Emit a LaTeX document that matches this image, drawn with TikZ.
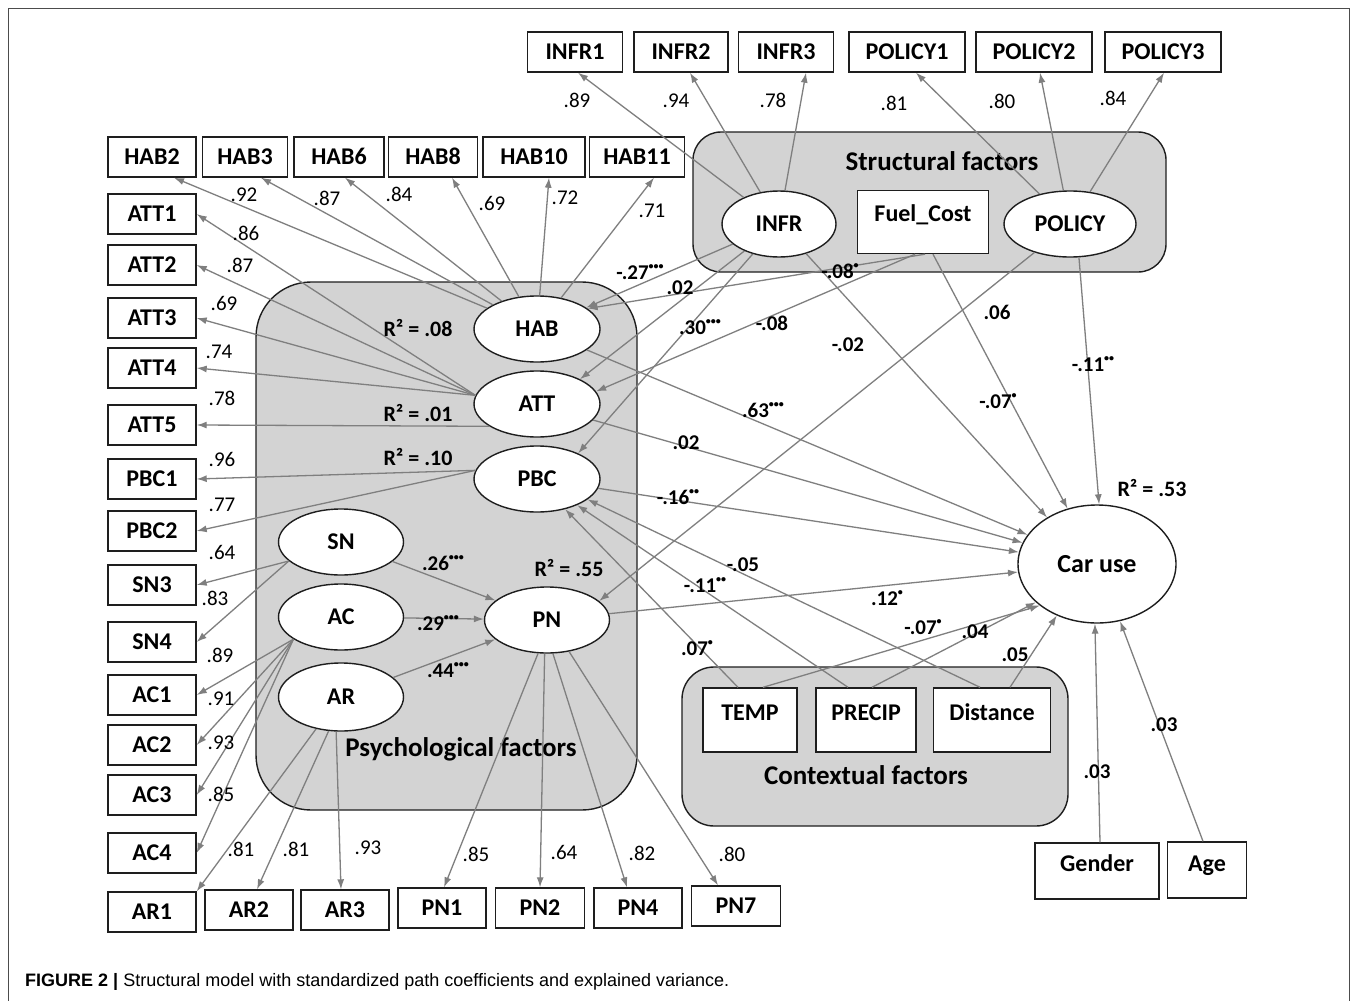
\documentclass[tikz,border=0pt]{standalone}
\usepackage{fontspec}
\setmainfont{Carlito}
\newfontfamily\capfont{Liberation Sans}
\usetikzlibrary{arrows.meta,calc,shapes.geometric}
\definecolor{arrg}{HTML}{7F7F7F}
\definecolor{boxg}{HTML}{D3D3D3}
\definecolor{edgec}{HTML}{1E1E1E}
\newcommand{\sg}[1]{\raisebox{0.5em}{\fontsize{10}{10}\selectfont #1}}
\tikzset{
 ind/.style={draw=edgec, line width=1.4pt, fill=white, minimum height=40pt, inner sep=0pt, text height=15.2pt, text depth=0pt, font=\bfseries\fontsize{24}{28}\selectfont},
 lat/.style={ellipse, draw=edgec, line width=1.4pt, fill=white, inner sep=0pt, text height=15.2pt, text depth=0pt, font=\bfseries\fontsize{24}{28}\selectfont},
 grp/.style={draw=edgec, line width=1.4pt, fill=boxg},
 conn/.style={draw=arrg, line width=1.3pt, -{Latex[length=10pt,width=7pt]}},
 loadlab/.style={font=\fontsize{21}{25}\selectfont, inner sep=0pt},
 coeflab/.style={font=\bfseries\fontsize{21}{25}\selectfont, inner sep=0pt},
 rsqlab/.style={font=\bfseries\fontsize{22}{26}\selectfont, inner sep=0pt},
 grouplab/.style={font=\bfseries\fontsize{27}{31}\selectfont, inner sep=0pt, text height=17.1pt, text depth=0pt},
 txt/.style={font=\bfseries\fontsize{24}{28}\selectfont, inner sep=0pt, text height=15.2pt, text depth=0pt},
}
\begin{document}
\begin{tikzpicture}[x=1pt,y=-1pt]
\useasboundingbox (0,0) rectangle (1357,1001);
\fill[white] (0,0) rectangle (1357,1001);
\draw[draw=black!70, line width=1pt] (8,1001) -- (8,8) -- (1349,8) -- (1349,1001);

% group boxes
\draw[grp, rounded corners=28pt] (693,132) rectangle (1166,272);
\draw[grp, rounded corners=55pt] (256,282) rectangle (637,810);
\draw[grp, rounded corners=32pt] (682,667) rectangle (1068,826);
\node[grouplab] (gS) at (942,162) {Structural factors};
\node[grouplab] (gP) at (461,748) {Psychological factors};
\node[grouplab] (gC) at (866,776) {Contextual factors};

% top indicators
\node[ind, minimum width=95pt] (INFR1) at (575,52) {INFR1};
\node[ind, minimum width=94pt] (INFR2) at (681,52) {INFR2};
\node[ind, minimum width=95pt] (INFR3) at (786,52) {INFR3};
\node[ind, minimum width=116pt] (POLICY1) at (907,52) {POLICY1};
\node[ind, minimum width=116pt] (POLICY2) at (1034,52) {POLICY2};
\node[ind, minimum width=116pt] (POLICY3) at (1163,52) {POLICY3};

% HAB row
\node[ind, minimum width=88pt] (HAB2) at (152,157) {HAB2};
\node[ind, minimum width=85pt] (HAB3) at (245,157) {HAB3};
\node[ind, minimum width=90pt] (HAB6) at (339,157) {HAB6};
\node[ind, minimum width=89pt] (HAB8) at (433,157) {HAB8};
\node[ind, minimum width=102pt] (HAB10) at (534,157) {HAB10};
\node[ind, minimum width=95pt] (HAB11) at (637,157) {HAB11};

% left column
\foreach \n/\y in {ATT1/214,ATT2/265,ATT3/318,ATT4/368,ATT5/425,PBC1/479,PBC2/531,SN3/585,SN4/642,AC1/695,AC2/745,AC3/795,AC4/853,AR1/912}
  \node[ind, minimum width=88pt] (\n) at (152,\y) {\n};

% bottom row
\node[ind, minimum width=88pt] (AR2) at (249,910) {AR2};
\node[ind, minimum width=88pt] (AR3) at (345,910) {AR3};
\node[ind, minimum width=88pt] (PN1) at (442,908) {PN1};
\node[ind, minimum width=89pt] (PN2) at (540,908) {PN2};
\node[ind, minimum width=88pt] (PN4) at (638,908) {PN4};
\node[ind, minimum width=89pt] (PN7) at (736,906) {PN7};

% latent
\node[lat, minimum width=126pt, minimum height=66pt] (HAB) at (537,329) {HAB};
\node[lat, minimum width=126pt, minimum height=66pt] (ATT) at (537,404) {ATT};
\node[lat, minimum width=126pt, minimum height=66pt] (PBC) at (537,479) {PBC};
\node[lat, minimum width=125pt, minimum height=66pt] (SN) at (341,542) {SN};
\node[lat, minimum width=125pt, minimum height=66pt] (AC) at (341,617) {AC};
\node[lat, minimum width=125pt, minimum height=68pt] (AR) at (341,697) {AR};
\node[lat, minimum width=125pt, minimum height=66pt] (PN) at (547,620) {PN};
\node[lat, minimum width=114pt, minimum height=66pt] (INFR) at (779,224) {INFR};
\node[lat, minimum width=132pt, minimum height=66pt] (POLICY) at (1070,224) {POLICY};
\node[lat, minimum width=158pt, minimum height=118pt, text height=16.5pt, font=\bfseries\fontsize{26}{30}\selectfont] (CAR) at (1097,564) {Car use};

% boxes with top text
\node[ind, minimum width=131pt, minimum height=63pt] (FC) at (923,222) {};
\node[txt] (FCt) at (923,214) {Fuel\_Cost};
\node[ind, minimum width=94pt, minimum height=64pt] (TEMP) at (750,720) {};
\node[txt] (TEMPt) at (750,713) {TEMP};
\node[ind, minimum width=100pt, minimum height=64pt] (PRECIP) at (866,720) {};
\node[txt] (PRECIPt) at (866,713) {PRECIP};
\node[ind, minimum width=117pt, minimum height=64pt] (DIST) at (992,720) {};
\node[txt] (DISTt) at (992,713) {Distance};
\node[ind, minimum width=124pt, minimum height=56pt] (GEN) at (1097,871) {};
\node[txt] (GENt) at (1097,864) {Gender};
\node[ind, minimum width=79pt, minimum height=56pt] (AGE) at (1207,870) {};
\node[txt] (AGEt) at (1207,864) {Age};

% measurement arrows
\draw[conn] (INFR) -- ($(INFR1.south)+(3,0)$);
\draw[conn] (INFR) -- ($(INFR2.south)+(9,0)$);
\draw[conn] (INFR) -- ($(INFR3.south)+(20,0)$);
\draw[conn] (POLICY) -- ($(POLICY1.south)+(9,0)$);
\draw[conn] (POLICY) -- ($(POLICY2.south)+(6,0)$);
\draw[conn] (POLICY) -- ($(POLICY3.south)+(1,0)$);
\draw[conn] (HAB) -- ($(HAB2.south)+(22,0)$);
\draw[conn] (HAB) -- ($(HAB3.south)+(16,0)$);
\draw[conn] (HAB) -- ($(HAB6.south)+(6,0)$);
\draw[conn] (HAB) -- ($(HAB8.south)+(19,0)$);
\draw[conn] (HAB) -- ($(HAB10.south)+(15,0)$);
\draw[conn] (HAB) -- ($(HAB11.south)+(17,0)$);
\draw[conn] (ATT.172) -- (ATT1.east);
\draw[conn] (ATT.172) -- (ATT2.east);
\draw[conn] (ATT.172) -- (ATT3.east);
\draw[conn] (ATT.172) -- (ATT4.east);
\draw[conn] (ATT.205) -- (ATT5.east);
\draw[conn] (PBC.172) -- (PBC1.east);
\draw[conn] (PBC.172) -- (PBC2.east);
\draw[conn] (SN.200) -- (SN3.east);
\draw[conn] (SN.200) -- (SN4.east);
\draw[conn] (AC.205) -- (AC1.east);
\draw[conn] (AC.205) -- (AC2.east);
\draw[conn] (AC.205) -- (AC3.east);
\draw[conn] (AC.205) -- (AC4.east);
\draw[conn] (AR.232) -- (AR1.north east);
\draw[conn] (AR.250) -- ($(AR2.north)+(8,0)$);
\draw[conn] (AR.262) -- ($(AR3.north)+(-4,0)$);
\draw[conn] (PN.255) -- ($(PN1.north)+(2,0)$);
\draw[conn] (PN.266) -- (PN2.north);
\draw[conn] (PN.280) -- ($(PN4.north)+(-11,0)$);
\draw[conn] (PN.305) -- ($(PN7.north)+(-18,0)$);

% structural arrows
\draw[conn] (INFR) -- (HAB);
\draw[conn] ($(FC.south)+(2,0)$) -- (HAB.22);
\draw[conn] (INFR) -- (ATT.30);
\draw[conn] ($(FC.south)+(-8,0)$) -- (ATT.12);
\draw[conn] (INFR) -- (PBC.32);
\draw[conn] (INFR) -- (CAR.137);
\draw[conn] ($(FC.south)+(10,0)$) -- (CAR.118);
\draw[conn] (POLICY.-75) -- (CAR.88);
\draw[conn] (POLICY) -- (PN.20);
\draw[conn] (HAB) -- (CAR);
\draw[conn] (ATT) -- (CAR);
\draw[conn] (PBC) -- (CAR);
\draw[conn] (PN) -- (CAR);
\draw[conn] ($(TEMP.north)+(-12,0)$) -- (PBC.-47);
\draw[conn] ($(PRECIP.north)+(-18,0)$) -- (PBC.-33);
\draw[conn] ($(DIST.north)+(-12,0)$) -- (PBC.-22);
\draw[conn] ($(TEMP.north)+(13,0)$) -- (CAR.216);
\draw[conn] ($(PRECIP.north)+(6,0)$) -- (CAR.212);
\draw[conn] ($(DIST.north)+(18,0)$) -- (CAR.232);
\draw[conn] ($(GEN.north)+(3,0)$) -- (CAR.268);
\draw[conn] ($(AGE.north)+(-4,0)$) -- (CAR.-68);
\draw[conn] (SN) -- (PN);
\draw[conn] (AC) -- (PN);
\draw[conn] (AR) -- (PN);

% loadings
\foreach \t/\x/\y [count=\i] in {.89/577/100,.94/676/101,.78/773/100,.81/894/103,.80/1002/101,.84/1113/98,
  .92/244/195,.87/327/198,.84/399/194,.69/492/203,.72/565/198,.71/652/211,
  .86/246/233,.87/240/265,.69/224/303,.74/219/352,.78/222/398,.96/222/459,.77/222/505,
  .64/222/552,.83/215/598,.89/220/655,.91/221/699,.93/221/743,.85/221/794,
  .81/241/849,.81/296/849,.93/368/848,.85/476/854,.64/564/852,.82/642/853,.80/732/854}
  \node[loadlab] (L\i) at (\x,\y) {\t};

% structural coefficients
\node[coeflab] (c1) at (640,272) {-.27\sg{•••}};
\node[coeflab] (c2) at (680,288) {.02};
\node[coeflab] (c3) at (840,271) {-.08\sg{•}};
\node[coeflab] (c4) at (700,327) {.30\sg{•••}};
\node[coeflab] (c5) at (772,323) {-.08};
\node[coeflab] (c6) at (848,345) {-.02};
\node[coeflab] (c7) at (997,312) {.06};
\node[coeflab] (c8) at (998,401) {-.07\sg{•}};
\node[coeflab] (c9) at (1093,364) {-.11\sg{••}};
\node[coeflab] (c10) at (763,410) {.63\sg{•••}};
\node[coeflab] (c11) at (686,443) {.02};
\node[coeflab] (c12) at (678,497) {-.16\sg{••}};
\node[coeflab] (c13) at (743,565) {-.05};
\node[coeflab] (c14) at (705,585) {-.11\sg{••}};
\node[coeflab] (c15) at (887,598) {.12\sg{•}};
\node[coeflab] (c16) at (923,627) {-.07\sg{•}};
\node[coeflab] (c17) at (975,632) {.04};
\node[coeflab] (c18) at (1015,655) {.05};
\node[coeflab] (c19) at (697,648) {.07\sg{•}};
\node[coeflab] (c20) at (443,563) {.26\sg{•••}};
\node[coeflab] (c21) at (438,623) {.29\sg{•••}};
\node[coeflab] (c22) at (448,670) {.44\sg{•••}};
\node[coeflab] (c23) at (1097,772) {.03};
\node[coeflab] (c24) at (1164,725) {.03};

% R squared
\node[rsqlab] (r1) at (418,328) {R² = .08};
\node[rsqlab] (r2) at (418,413) {R² = .01};
\node[rsqlab] (r3) at (418,457) {R² = .10};
\node[rsqlab] (r4) at (569,568) {R² = .55};
\node[rsqlab] (r5) at (1152,488) {R² = .53};

% caption
\node[anchor=west, inner sep=0pt, font=\capfont\fontsize{18}{20}\selectfont] (cap) at (25,982) {\textbf{FIGURE 2 |} Structural model with standardized path coefficients and explained variance.};
\end{tikzpicture}
\end{document}
